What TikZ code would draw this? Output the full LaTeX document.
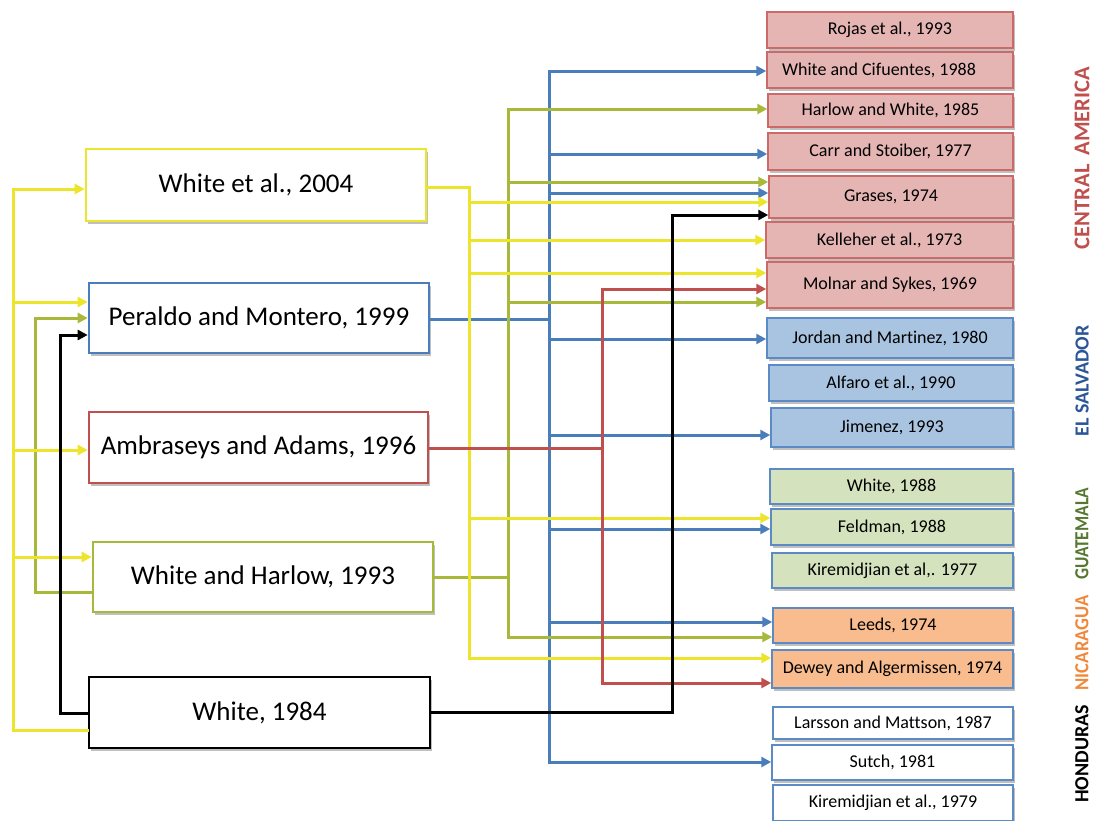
\documentclass[tikz,border=0pt]{standalone}
\usepackage{fontspec}
\setmainfont{Carlito}[Ligatures=NoCommon]
\usetikzlibrary{arrows.meta,shadows}
\definecolor{cyl}{HTML}{EDE52B}
\definecolor{col}{HTML}{A8B83A}
\definecolor{cbl}{HTML}{4A7EBB}
\definecolor{crd}{HTML}{C0504D}
\definecolor{rbord}{HTML}{CC6A6A}
\definecolor{bbord}{HTML}{5B8AC4}
\definecolor{fred}{HTML}{E5B5B4}
\definecolor{fblue}{HTML}{A9C4E0}
\definecolor{fgreen}{HTML}{D4E2BE}
\definecolor{forange}{HTML}{F9BC8E}
\definecolor{labblue}{HTML}{2B5597}
\definecolor{labgreen}{HTML}{56772F}
\definecolor{laborange}{HTML}{F0883C}
\begin{document}
\begin{tikzpicture}[x=1pt,y=-1pt,
  shad/.style={drop shadow={shadow xshift=1.5pt,shadow yshift=-2.5pt,opacity=0.25,fill=black}},
  lbox/.style={draw=#1,line width=2.6pt,fill=white,inner sep=0pt,shad,
    font=\fontsize{27}{32}\selectfont},
  rbox/.style 2 args={draw=#1,fill=#2,line width=1.5pt,inner sep=0pt,shad,
    font=\fontsize{18}{22}\selectfont},
  con/.style={draw=#1,line width=3pt,line cap=rect,line join=miter},
  arr/.style={-{Triangle[length=10pt,width=10pt]}},
  lab/.style={rotate=90,inner sep=0pt,font=\fontsize{20}{24}\selectfont\bfseries}]
\useasboundingbox (0,0) rectangle (1098,820);

% ---------- left boxes ----------
\node[lbox=cyl,minimum width=340,minimum height=72] (w04) at (256,185) {White et al., 2004};
\node[lbox=cbl,minimum width=340,minimum height=70] (per) at (259,318) {Peraldo and Montero, 1999};
\node[lbox=crd,minimum width=339,minimum height=71] (amb) at (258.5,447.5) {Ambraseys and Adams, 1996};
\node[lbox=col,minimum width=340,minimum height=70] (wh93) at (263,577) {White and Harlow, 1993};
\node[lbox=black,minimum width=341,minimum height=71] (w84) at (259.5,712.5) {White, 1984};

% ---------- right boxes ----------
\node[rbox={rbord}{fred},minimum width=246,minimum height=36] (rojas) at (890,30) {Rojas et al., 1993};
\node[rbox={rbord}{fred},minimum width=246,minimum height=36] (cif) at (890,70) {\hspace*{-22pt}White and Cifuentes, 1988};
\node[rbox={rbord}{fred},minimum width=245,minimum height=33] (harl) at (890.5,110.5) {Harlow and White, 1985};
\node[rbox={rbord}{fred},minimum width=245,minimum height=37] (carr) at (890.5,151.5) {Carr and Stoiber, 1977};
\node[rbox={rbord}{fred},minimum width=244,minimum height=42] (gras) at (891,197) {Grases, 1974};
\node[rbox={rbord}{fred},minimum width=247,minimum height=36] (kell) at (889.5,240) {Kelleher et al., 1973};
\node[rbox={rbord}{fred},minimum width=246,minimum height=46] (moln) at (890,285) {Molnar and Sykes, 1969};
\node[rbox={bbord}{fblue},minimum width=246,minimum height=40] (jord) at (890,338) {Jordan and Martinez, 1980};
\node[rbox={bbord}{fblue},minimum width=244,minimum height=36] (alf) at (891,383) {Alfaro et al., 1990};
\node[rbox={bbord}{fblue},minimum width=242,minimum height=39] (jim) at (892,427.5) {Jimenez, 1993};
\node[rbox={bbord}{fgreen},minimum width=243,minimum height=35] (wh88) at (891.5,486.5) {White, 1988};
\node[rbox={bbord}{fgreen},minimum width=242,minimum height=36] (feld) at (892,527) {Feldman, 1988};
\node[rbox={bbord}{fgreen},minimum width=241,minimum height=35] (kir77) at (892.5,570.5) {Kiremidjian et al,. 1977};
\node[rbox={bbord}{forange},minimum width=240,minimum height=35] (leeds) at (893,625.5) {Leeds, 1974};
\node[rbox={bbord}{forange},minimum width=241,minimum height=38] (dew) at (892.5,669) {Dewey and Algermissen, 1974};
\node[rbox={bbord}{white},minimum width=240,minimum height=32] (lars) at (893,723) {Larsson and Mattson, 1987};
\node[rbox={bbord}{white},minimum width=241,minimum height=35] (sutch) at (892.5,762.5) {Sutch, 1981};
\node[rbox={bbord}{white},minimum width=240,minimum height=36] (kir79) at (893,803) {Kiremidjian et al., 1979};

% ---------- region labels ----------
\node[lab,text=crd,font=\fontsize{22.5}{26}\selectfont\bfseries] (lca) at (1082,158) {CENTRAL\hspace{9pt}AMERICA};
\node[lab,text=labblue] (les) at (1082,381) {EL SALVADOR};
\node[lab,text=labgreen] (lgu) at (1082,534) {\scalebox{0.87}[1]{GUATEMALA}};
\node[lab,text=laborange] (lni) at (1082,643) {\scalebox{0.93}[1]{NICARAGUA}};
\node[lab,text=black] (lho) at (1082,754) {HONDURAS};

% ---------- blue (Peraldo and Montero) ----------
\coordinate (b0) at (549,319);
\coordinate (b1) at (549,71);
\coordinate (b2) at (549,154);
\coordinate (b3) at (549,193);
\coordinate (b4) at (549,339);
\coordinate (b5) at (549,435);
\coordinate (b6) at (549,529);
\coordinate (b7) at (549,622);
\coordinate (b8) at (549,762);
\draw[con=cbl] (per.east |- b0) -- (b0);
\draw[con=cbl,arr] (b8) -- (b1) -- (cif.west |- b1);
\draw[con=cbl,arr] (b1) |- (sutch.west |- b8);
\foreach \c/\n in {b2/carr,b3/gras,b4/jord,b5/jim,b6/feld,b7/leeds}
  \draw[con=cbl,arr] (\c) -- (\n.west |- \c);

% ---------- olive (White and Harlow) ----------
\coordinate (o0) at (508,577);
\coordinate (o1) at (508,109);
\coordinate (o2) at (508,182);
\coordinate (o3) at (508,302);
\coordinate (o4) at (508,637);
\draw[con=col] (wh93.east |- o0) -- (o0);
\draw[con=col,arr] (o4) -- (o1) -- (harl.west |- o1);
\draw[con=col,arr] (o1) |- (leeds.west |- o4);
\foreach \c/\n in {o2/gras,o3/moln}
  \draw[con=col,arr] (\c) -- (\n.west |- \c);
\coordinate (ol1) at (35,318);
\coordinate (ol2) at (35,592);
\draw[con=col,arr] (wh93.west |- ol2) -- (ol2) -- (ol1) -- (per.west |- ol1);

% ---------- yellow (White et al., 2004) ----------
\coordinate (y0) at (469,187);
\coordinate (y1) at (469,202);
\coordinate (y2) at (469,240);
\coordinate (y3) at (469,273);
\coordinate (y4) at (469,518);
\coordinate (y5) at (469,658);
\draw[con=cyl,arr] (w04.east |- y0) -- (y0) -- (y5) -- (dew.west |- y5);
\foreach \c/\n in {y1/gras,y2/kell,y3/moln,y4/feld}
  \draw[con=cyl,arr] (\c) -- (\n.west |- \c);
\coordinate (ya) at (13,189);
\coordinate (yb) at (13,302);
\coordinate (yc) at (13,450);
\coordinate (yd) at (13,557);
\coordinate (ye) at (13,730);
\draw[con=cyl,arr] (w84.west |- ye) -- (ye) -- (ya) -- (w04.west |- ya);
\foreach \c/\n in {yb/per,yc/amb,yd/wh93}
  \draw[con=cyl,arr] (\c) -- (\n.west |- \c);

% ---------- red (Ambraseys and Adams) ----------
\coordinate (r0) at (602,448);
\coordinate (r1) at (602,289);
\coordinate (r2) at (602,683);
\draw[con=crd] (amb.east |- r0) -- (r0);
\draw[con=crd,arr] (r2) -- (r1) -- (moln.west |- r1);
\draw[con=crd,arr] (r1) |- (dew.west |- r2);

% ---------- black (White, 1984) ----------
\coordinate (k0) at (672,712);
\coordinate (k1) at (672,215);
\draw[con=black,arr] (w84.east |- k0) -- (k0) -- (k1) -- (gras.west |- k1);
\coordinate (kl1) at (60,335);
\coordinate (kl2) at (60,713);
\draw[con=black,arr] (w84.west |- kl2) -- (kl2) -- (kl1) -- (per.west |- kl1);
\end{tikzpicture}
\end{document}
